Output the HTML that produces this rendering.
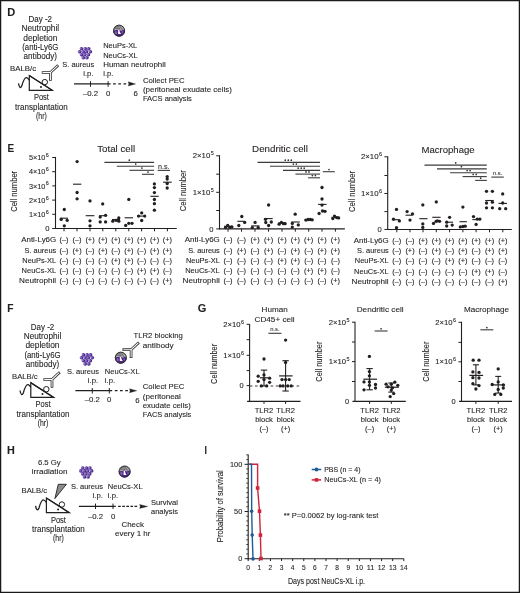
<!DOCTYPE html>
<html><head><meta charset="utf-8"><title>Figure</title><style>html,body{margin:0;padding:0;background:#fff;}svg{display:block;will-change:transform;}text{stroke:#231f20;stroke-width:0.1px;}</style></head><body>
<svg width="520" height="593" viewBox="0 0 520 593" font-family='"Liberation Sans", sans-serif' fill="#231f20">
<defs><radialGradient id="gb" cx="0.3" cy="0.45" r="0.8"><stop offset="0" stop-color="#a490d2"/><stop offset="0.35" stop-color="#6a48aa"/><stop offset="0.7" stop-color="#44218c"/><stop offset="1" stop-color="#22104e"/></radialGradient></defs>
<rect x="0" y="0" width="520" height="593" fill="#fff"/>
<text x="7.30" y="15.80" font-size="10.5" font-weight="bold" textLength="8.00" lengthAdjust="spacingAndGlyphs">D</text>
<text x="40.30" y="22.30" font-size="8.2" text-anchor="middle" textLength="23.50" lengthAdjust="spacingAndGlyphs">Day -2</text>
<text x="40.30" y="31.40" font-size="8.2" text-anchor="middle" textLength="37.70" lengthAdjust="spacingAndGlyphs">Neutrophil</text>
<text x="40.30" y="40.60" font-size="8.2" text-anchor="middle" textLength="34.10" lengthAdjust="spacingAndGlyphs">depletion</text>
<text x="40.30" y="49.90" font-size="8.2" text-anchor="middle" textLength="36.20" lengthAdjust="spacingAndGlyphs">(anti-Ly6G</text>
<text x="40.30" y="59.20" font-size="8.2" text-anchor="middle" textLength="33.40" lengthAdjust="spacingAndGlyphs">antibody)</text>
<text x="10.00" y="71.10" font-size="7.9" textLength="26.20" lengthAdjust="spacingAndGlyphs">BALB/c</text>
<path d="M29.30,75.60 L29.30,90.30 L52.20,90.30 Z" stroke="#231f20" stroke-width="1.2" fill="none" stroke-linejoin="miter"/>
<path d="M18.50,83.40 C19.30,88.10 20.70,88.60 21.90,85.60 C23.30,80.60 24.70,77.10 26.50,77.60 C28.10,78.10 28.80,79.60 29.30,80.10" stroke="#231f20" stroke-width="1.3" fill="none"/>
<circle cx="44.80" cy="82.10" r="2.7" fill="#fff" stroke="#231f20" stroke-width="1"/>
<line x1="29.30" y1="75.60" x2="52.20" y2="90.30" stroke="#231f20" stroke-width="1.2"/>
<circle cx="41.00" cy="87.00" r="1.0" fill="#231f20"/>
<path d="M41.80,72.50 L50.40,72.50 L58.20,65.20 M50.40,72.50 L50.40,80.80" stroke="#2e2e2e" stroke-width="2.7" fill="none" stroke-linejoin="miter" stroke-linecap="butt"/>
<path d="M42.55,72.50 L50.40,72.50 L57.65,65.71 M50.40,72.50 L50.40,80.05" stroke="#fff" stroke-width="1.05" fill="none" stroke-linejoin="miter" stroke-linecap="butt"/>
<text x="41.40" y="100.30" font-size="8.2" text-anchor="middle" textLength="15.00" lengthAdjust="spacingAndGlyphs">Post</text>
<text x="41.40" y="109.50" font-size="8.2" text-anchor="middle" textLength="52.60" lengthAdjust="spacingAndGlyphs">transplantation</text>
<text x="41.40" y="119.20" font-size="8.2" text-anchor="middle" textLength="10.70" lengthAdjust="spacingAndGlyphs">(hr)</text>
<circle cx="81.50" cy="48.80" r="1.8" fill="url(#gb)"/>
<circle cx="85.20" cy="48.80" r="1.8" fill="url(#gb)"/>
<circle cx="88.70" cy="48.80" r="1.8" fill="url(#gb)"/>
<circle cx="79.60" cy="51.70" r="1.8" fill="url(#gb)"/>
<circle cx="83.30" cy="51.70" r="1.8" fill="url(#gb)"/>
<circle cx="86.50" cy="51.70" r="1.8" fill="url(#gb)"/>
<circle cx="90.40" cy="51.70" r="1.8" fill="url(#gb)"/>
<circle cx="81.50" cy="54.70" r="1.8" fill="url(#gb)"/>
<circle cx="84.80" cy="54.70" r="1.8" fill="url(#gb)"/>
<circle cx="88.50" cy="54.70" r="1.8" fill="url(#gb)"/>
<circle cx="83.30" cy="57.80" r="1.8" fill="url(#gb)"/>
<circle cx="86.90" cy="57.80" r="1.8" fill="url(#gb)"/>
<text x="94.20" y="66.90" font-size="7.8" text-anchor="end" textLength="31.90" lengthAdjust="spacingAndGlyphs">S. aureus</text>
<text x="93.60" y="76.40" font-size="7.8" text-anchor="end" textLength="10.40" lengthAdjust="spacingAndGlyphs">i.p.</text>
<g transform="translate(119.10,30.70)"><circle r="6.0" fill="#a9a7ae"/><path d="M-3.8,-3.6 C-2,-4.2 0,-4 2.2,-3.4 M-4.4,-2.0 C-3,-2.6 -1,-2.5 0.8,-2.1 M1.6,-2.6 L3.6,-1.0" stroke="#4a4a4a" stroke-width="0.75" fill="none"/><path d="M-5.8,0.0 A5.8,5.8 0 0 0 5.8,0.0 C4.5,-1.2 3.2,-1.0 2.2,0.2 C1.2,-0.6 -0.4,-1.6 -1.6,-0.6 C-3,-0.8 -4.4,-0.8 -5.8,0.0 Z" fill="#4b2486"/><ellipse cx="-3.2" cy="2.0" rx="1.2" ry="1.8" fill="#8a6fb6" opacity="0.8"/><ellipse cx="3.4" cy="1.6" rx="0.9" ry="1.4" fill="#7a5eaa" opacity="0.7"/><path d="M-1.0,-0.6 L0.3,-0.8 L0.6,1.0 L1.9,3.4 L-1.0,3.4 Z" fill="#fff"/><circle r="5.55" fill="none" stroke="#2b2b2b" stroke-width="1"/></g>
<text x="103.20" y="48.00" font-size="7.8" textLength="34.10" lengthAdjust="spacingAndGlyphs">NeuPs-XL</text>
<text x="103.20" y="57.50" font-size="7.8" textLength="34.60" lengthAdjust="spacingAndGlyphs">NeuCs-XL</text>
<text x="103.20" y="66.80" font-size="7.8" textLength="62.60" lengthAdjust="spacingAndGlyphs">Human neutrophil</text>
<text x="103.20" y="76.30" font-size="7.8" textLength="10.30" lengthAdjust="spacingAndGlyphs">i.p.</text>
<line x1="74.00" y1="83.90" x2="110.60" y2="83.90" stroke="#231f20" stroke-width="1.2"/>
<line x1="90.50" y1="81.20" x2="90.50" y2="86.80" stroke="#231f20" stroke-width="1"/>
<line x1="108.10" y1="81.20" x2="108.10" y2="86.80" stroke="#231f20" stroke-width="1"/>
<line x1="113.10" y1="83.90" x2="127.00" y2="83.90" stroke="#231f20" stroke-width="1.2" stroke-dasharray="2.7,2.5"/>
<path d="M128.2,81.8 L135.6,83.9 L128.2,86.0 L128.9,83.9 Z" stroke="#231f20" stroke-width="0.3" fill="#231f20"/>
<text x="90.50" y="96.20" font-size="7.8" text-anchor="middle">–0.2</text>
<text x="108.10" y="96.20" font-size="7.8" text-anchor="middle">0</text>
<text x="135.60" y="96.20" font-size="7.8" text-anchor="middle">6</text>
<text x="142.90" y="83.00" font-size="7.8" textLength="41.70" lengthAdjust="spacingAndGlyphs">Collect PEC</text>
<text x="142.90" y="92.20" font-size="7.8" textLength="89.00" lengthAdjust="spacingAndGlyphs">(peritoneal exudate cells)</text>
<text x="142.90" y="100.80" font-size="7.8" textLength="49.00" lengthAdjust="spacingAndGlyphs">FACS analysis</text>
<text x="7.60" y="151.70" font-size="10.0" font-weight="bold" textLength="6.60" lengthAdjust="spacingAndGlyphs">E</text>
<line x1="55.50" y1="156.90" x2="55.50" y2="229.00" stroke="#231f20" stroke-width="1.1"/>
<line x1="55.00" y1="228.50" x2="176.80" y2="228.50" stroke="#231f20" stroke-width="1.1"/>
<line x1="52.20" y1="157.50" x2="55.50" y2="157.50" stroke="#231f20" stroke-width="1"/>
<line x1="52.20" y1="171.70" x2="55.50" y2="171.70" stroke="#231f20" stroke-width="1"/>
<line x1="52.20" y1="185.90" x2="55.50" y2="185.90" stroke="#231f20" stroke-width="1"/>
<line x1="52.20" y1="200.10" x2="55.50" y2="200.10" stroke="#231f20" stroke-width="1"/>
<line x1="52.20" y1="214.30" x2="55.50" y2="214.30" stroke="#231f20" stroke-width="1"/>
<line x1="52.20" y1="228.50" x2="55.50" y2="228.50" stroke="#231f20" stroke-width="1"/>
<line x1="64.00" y1="228.50" x2="64.00" y2="231.30" stroke="#231f20" stroke-width="1"/>
<line x1="77.00" y1="228.50" x2="77.00" y2="231.30" stroke="#231f20" stroke-width="1"/>
<line x1="90.00" y1="228.50" x2="90.00" y2="231.30" stroke="#231f20" stroke-width="1"/>
<line x1="102.80" y1="228.50" x2="102.80" y2="231.30" stroke="#231f20" stroke-width="1"/>
<line x1="115.80" y1="228.50" x2="115.80" y2="231.30" stroke="#231f20" stroke-width="1"/>
<line x1="128.80" y1="228.50" x2="128.80" y2="231.30" stroke="#231f20" stroke-width="1"/>
<line x1="141.60" y1="228.50" x2="141.60" y2="231.30" stroke="#231f20" stroke-width="1"/>
<line x1="154.50" y1="228.50" x2="154.50" y2="231.30" stroke="#231f20" stroke-width="1"/>
<line x1="167.40" y1="228.50" x2="167.40" y2="231.30" stroke="#231f20" stroke-width="1"/>
<text x="45.40" y="160.10" font-size="7.4" text-anchor="end" textLength="16.50" lengthAdjust="spacingAndGlyphs">5×10</text>
<text x="45.80" y="156.90" font-size="5.4">6</text>
<text x="45.40" y="174.30" font-size="7.4" text-anchor="end" textLength="16.50" lengthAdjust="spacingAndGlyphs">4×10</text>
<text x="45.80" y="171.10" font-size="5.4">6</text>
<text x="45.40" y="188.50" font-size="7.4" text-anchor="end" textLength="16.50" lengthAdjust="spacingAndGlyphs">3×10</text>
<text x="45.80" y="185.30" font-size="5.4">6</text>
<text x="45.40" y="202.70" font-size="7.4" text-anchor="end" textLength="16.50" lengthAdjust="spacingAndGlyphs">2×10</text>
<text x="45.80" y="199.50" font-size="5.4">6</text>
<text x="45.40" y="216.90" font-size="7.4" text-anchor="end" textLength="16.50" lengthAdjust="spacingAndGlyphs">1×10</text>
<text x="45.80" y="213.70" font-size="5.4">6</text>
<text x="49.50" y="231.20" font-size="7.6" text-anchor="end">0</text>
<text x="97.20" y="151.50" font-size="9.7" textLength="37.90" lengthAdjust="spacingAndGlyphs">Total cell</text>
<text x="14.70" y="191.35" font-size="8.8" text-anchor="middle" textLength="41.00" lengthAdjust="spacingAndGlyphs" transform="rotate(-90 14.70 191.35)" dominant-baseline="middle">Cell number</text>
<circle cx="64.30" cy="209.50" r="1.65" fill="#231f20"/>
<circle cx="61.20" cy="219.40" r="1.65" fill="#231f20"/>
<circle cx="67.20" cy="220.30" r="1.65" fill="#231f20"/>
<circle cx="64.30" cy="225.80" r="1.65" fill="#231f20"/>
<circle cx="77.10" cy="161.60" r="1.65" fill="#231f20"/>
<circle cx="77.10" cy="192.50" r="1.65" fill="#231f20"/>
<circle cx="77.10" cy="198.80" r="1.65" fill="#231f20"/>
<circle cx="90.00" cy="200.90" r="1.65" fill="#231f20"/>
<circle cx="90.00" cy="220.80" r="1.65" fill="#231f20"/>
<circle cx="90.00" cy="225.80" r="1.65" fill="#231f20"/>
<circle cx="102.70" cy="203.90" r="1.65" fill="#231f20"/>
<circle cx="100.20" cy="217.10" r="1.65" fill="#231f20"/>
<circle cx="105.60" cy="215.30" r="1.65" fill="#231f20"/>
<circle cx="100.20" cy="221.90" r="1.65" fill="#231f20"/>
<circle cx="105.60" cy="221.90" r="1.65" fill="#231f20"/>
<circle cx="112.80" cy="221.20" r="1.65" fill="#231f20"/>
<circle cx="116.10" cy="220.30" r="1.65" fill="#231f20"/>
<circle cx="118.80" cy="218.00" r="1.65" fill="#231f20"/>
<circle cx="118.80" cy="221.20" r="1.65" fill="#231f20"/>
<circle cx="128.80" cy="199.40" r="1.65" fill="#231f20"/>
<circle cx="125.70" cy="225.40" r="1.65" fill="#231f20"/>
<circle cx="128.80" cy="223.30" r="1.65" fill="#231f20"/>
<circle cx="132.00" cy="223.30" r="1.65" fill="#231f20"/>
<circle cx="141.70" cy="212.90" r="1.65" fill="#231f20"/>
<circle cx="138.60" cy="216.10" r="1.65" fill="#231f20"/>
<circle cx="144.70" cy="216.10" r="1.65" fill="#231f20"/>
<circle cx="141.70" cy="220.50" r="1.65" fill="#231f20"/>
<circle cx="154.40" cy="183.90" r="1.65" fill="#231f20"/>
<circle cx="154.40" cy="187.60" r="1.65" fill="#231f20"/>
<circle cx="154.40" cy="192.60" r="1.65" fill="#231f20"/>
<circle cx="154.40" cy="199.50" r="1.65" fill="#231f20"/>
<circle cx="154.40" cy="203.70" r="1.65" fill="#231f20"/>
<circle cx="154.40" cy="210.20" r="1.65" fill="#231f20"/>
<circle cx="167.20" cy="176.60" r="1.65" fill="#231f20"/>
<circle cx="167.20" cy="179.00" r="1.65" fill="#231f20"/>
<circle cx="167.20" cy="183.50" r="1.65" fill="#231f20"/>
<circle cx="167.20" cy="188.00" r="1.65" fill="#231f20"/>
<line x1="59.80" y1="218.20" x2="68.00" y2="218.20" stroke="#231f20" stroke-width="1.1"/>
<line x1="73.00" y1="184.20" x2="81.30" y2="184.20" stroke="#231f20" stroke-width="1.1"/>
<line x1="85.70" y1="215.70" x2="94.40" y2="215.70" stroke="#231f20" stroke-width="1.1"/>
<line x1="99.00" y1="215.70" x2="107.00" y2="215.70" stroke="#231f20" stroke-width="1.1"/>
<line x1="112.00" y1="219.50" x2="120.00" y2="219.50" stroke="#231f20" stroke-width="1.1"/>
<line x1="124.60" y1="217.80" x2="133.00" y2="217.80" stroke="#231f20" stroke-width="1.1"/>
<line x1="137.00" y1="216.10" x2="146.00" y2="216.10" stroke="#231f20" stroke-width="1.1"/>
<line x1="150.40" y1="196.30" x2="158.70" y2="196.30" stroke="#231f20" stroke-width="1.1"/>
<line x1="163.00" y1="182.20" x2="171.70" y2="182.20" stroke="#231f20" stroke-width="1.1"/>
<line x1="104.40" y1="162.40" x2="154.10" y2="162.40" stroke="#3b3b3b" stroke-width="1.1"/>
<circle cx="129.30" cy="160.20" r="0.85" fill="#333"/>
<line x1="116.80" y1="166.30" x2="154.10" y2="166.30" stroke="#3b3b3b" stroke-width="1.1"/>
<circle cx="135.70" cy="164.10" r="0.85" fill="#333"/>
<line x1="129.40" y1="170.30" x2="154.10" y2="170.30" stroke="#3b3b3b" stroke-width="1.1"/>
<circle cx="141.90" cy="168.10" r="0.85" fill="#333"/>
<line x1="142.00" y1="174.30" x2="154.10" y2="174.30" stroke="#3b3b3b" stroke-width="1.1"/>
<circle cx="148.00" cy="172.10" r="0.85" fill="#333"/>
<line x1="157.60" y1="170.40" x2="170.00" y2="170.40" stroke="#3b3b3b" stroke-width="1.1"/>
<text x="163.80" y="168.50" font-size="6.6" text-anchor="middle" textLength="11.60" lengthAdjust="spacingAndGlyphs" fill="#3b3b3b">n.s.</text>
<text x="56.20" y="242.00" font-size="7.6" text-anchor="end" textLength="35.00" lengthAdjust="spacingAndGlyphs">Anti-Ly6G</text>
<text x="64.00" y="242.00" font-size="7.4" text-anchor="middle">(–)</text>
<text x="77.00" y="242.00" font-size="7.4" text-anchor="middle">(–)</text>
<text x="90.00" y="242.00" font-size="7.4" text-anchor="middle">(+)</text>
<text x="102.80" y="242.00" font-size="7.4" text-anchor="middle">(+)</text>
<text x="115.80" y="242.00" font-size="7.4" text-anchor="middle">(+)</text>
<text x="128.80" y="242.00" font-size="7.4" text-anchor="middle">(+)</text>
<text x="141.60" y="242.00" font-size="7.4" text-anchor="middle">(+)</text>
<text x="154.50" y="242.00" font-size="7.4" text-anchor="middle">(+)</text>
<text x="167.40" y="242.00" font-size="7.4" text-anchor="middle">(+)</text>
<text x="56.20" y="252.50" font-size="7.6" text-anchor="end" textLength="31.60" lengthAdjust="spacingAndGlyphs">S. aureus</text>
<text x="64.00" y="252.50" font-size="7.4" text-anchor="middle">(–)</text>
<text x="77.00" y="252.50" font-size="7.4" text-anchor="middle">(+)</text>
<text x="90.00" y="252.50" font-size="7.4" text-anchor="middle">(–)</text>
<text x="102.80" y="252.50" font-size="7.4" text-anchor="middle">(+)</text>
<text x="115.80" y="252.50" font-size="7.4" text-anchor="middle">(–)</text>
<text x="128.80" y="252.50" font-size="7.4" text-anchor="middle">(+)</text>
<text x="141.60" y="252.50" font-size="7.4" text-anchor="middle">(–)</text>
<text x="154.50" y="252.50" font-size="7.4" text-anchor="middle">(+)</text>
<text x="167.40" y="252.50" font-size="7.4" text-anchor="middle">(+)</text>
<text x="56.20" y="262.80" font-size="7.6" text-anchor="end" textLength="33.90" lengthAdjust="spacingAndGlyphs">NeuPs-XL</text>
<text x="64.00" y="262.80" font-size="7.4" text-anchor="middle">(–)</text>
<text x="77.00" y="262.80" font-size="7.4" text-anchor="middle">(–)</text>
<text x="90.00" y="262.80" font-size="7.4" text-anchor="middle">(–)</text>
<text x="102.80" y="262.80" font-size="7.4" text-anchor="middle">(–)</text>
<text x="115.80" y="262.80" font-size="7.4" text-anchor="middle">(+)</text>
<text x="128.80" y="262.80" font-size="7.4" text-anchor="middle">(+)</text>
<text x="141.60" y="262.80" font-size="7.4" text-anchor="middle">(–)</text>
<text x="154.50" y="262.80" font-size="7.4" text-anchor="middle">(–)</text>
<text x="167.40" y="262.80" font-size="7.4" text-anchor="middle">(–)</text>
<text x="56.20" y="273.00" font-size="7.6" text-anchor="end" textLength="34.60" lengthAdjust="spacingAndGlyphs">NeuCs-XL</text>
<text x="64.00" y="273.00" font-size="7.4" text-anchor="middle">(–)</text>
<text x="77.00" y="273.00" font-size="7.4" text-anchor="middle">(–)</text>
<text x="90.00" y="273.00" font-size="7.4" text-anchor="middle">(–)</text>
<text x="102.80" y="273.00" font-size="7.4" text-anchor="middle">(–)</text>
<text x="115.80" y="273.00" font-size="7.4" text-anchor="middle">(–)</text>
<text x="128.80" y="273.00" font-size="7.4" text-anchor="middle">(–)</text>
<text x="141.60" y="273.00" font-size="7.4" text-anchor="middle">(+)</text>
<text x="154.50" y="273.00" font-size="7.4" text-anchor="middle">(+)</text>
<text x="167.40" y="273.00" font-size="7.4" text-anchor="middle">(–)</text>
<text x="56.20" y="283.20" font-size="7.6" text-anchor="end" textLength="37.20" lengthAdjust="spacingAndGlyphs">Neutrophil</text>
<text x="64.00" y="283.20" font-size="7.4" text-anchor="middle">(–)</text>
<text x="77.00" y="283.20" font-size="7.4" text-anchor="middle">(–)</text>
<text x="90.00" y="283.20" font-size="7.4" text-anchor="middle">(–)</text>
<text x="102.80" y="283.20" font-size="7.4" text-anchor="middle">(–)</text>
<text x="115.80" y="283.20" font-size="7.4" text-anchor="middle">(–)</text>
<text x="128.80" y="283.20" font-size="7.4" text-anchor="middle">(–)</text>
<text x="141.60" y="283.20" font-size="7.4" text-anchor="middle">(–)</text>
<text x="154.50" y="283.20" font-size="7.4" text-anchor="middle">(–)</text>
<text x="167.40" y="283.20" font-size="7.4" text-anchor="middle">(+)</text>
<line x1="219.50" y1="155.30" x2="219.50" y2="229.40" stroke="#231f20" stroke-width="1.1"/>
<line x1="219.00" y1="228.90" x2="344.90" y2="228.90" stroke="#231f20" stroke-width="1.1"/>
<line x1="216.20" y1="155.80" x2="219.50" y2="155.80" stroke="#231f20" stroke-width="1"/>
<line x1="216.20" y1="174.20" x2="219.50" y2="174.20" stroke="#231f20" stroke-width="1"/>
<line x1="216.20" y1="192.30" x2="219.50" y2="192.30" stroke="#231f20" stroke-width="1"/>
<line x1="216.20" y1="210.50" x2="219.50" y2="210.50" stroke="#231f20" stroke-width="1"/>
<line x1="216.20" y1="228.90" x2="219.50" y2="228.90" stroke="#231f20" stroke-width="1"/>
<line x1="228.00" y1="228.90" x2="228.00" y2="231.70" stroke="#231f20" stroke-width="1"/>
<line x1="241.50" y1="228.90" x2="241.50" y2="231.70" stroke="#231f20" stroke-width="1"/>
<line x1="255.00" y1="228.90" x2="255.00" y2="231.70" stroke="#231f20" stroke-width="1"/>
<line x1="268.50" y1="228.90" x2="268.50" y2="231.70" stroke="#231f20" stroke-width="1"/>
<line x1="282.00" y1="228.90" x2="282.00" y2="231.70" stroke="#231f20" stroke-width="1"/>
<line x1="295.30" y1="228.90" x2="295.30" y2="231.70" stroke="#231f20" stroke-width="1"/>
<line x1="308.70" y1="228.90" x2="308.70" y2="231.70" stroke="#231f20" stroke-width="1"/>
<line x1="322.00" y1="228.90" x2="322.00" y2="231.70" stroke="#231f20" stroke-width="1"/>
<line x1="335.40" y1="228.90" x2="335.40" y2="231.70" stroke="#231f20" stroke-width="1"/>
<text x="210.30" y="158.40" font-size="7.4" text-anchor="end" textLength="17.60" lengthAdjust="spacingAndGlyphs">2×10</text>
<text x="210.70" y="155.20" font-size="5.4">5</text>
<text x="210.30" y="194.90" font-size="7.4" text-anchor="end" textLength="17.60" lengthAdjust="spacingAndGlyphs">1×10</text>
<text x="210.70" y="191.70" font-size="5.4">5</text>
<text x="213.50" y="231.60" font-size="7.6" text-anchor="end">0</text>
<text x="252.10" y="152.10" font-size="9.7" textLength="55.80" lengthAdjust="spacingAndGlyphs">Dendritic cell</text>
<text x="184.00" y="190.75" font-size="8.8" text-anchor="middle" textLength="41.00" lengthAdjust="spacingAndGlyphs" transform="rotate(-90 184.00 190.75)" dominant-baseline="middle">Cell number</text>
<circle cx="225.60" cy="227.60" r="1.65" fill="#231f20"/>
<circle cx="227.70" cy="225.50" r="1.65" fill="#231f20"/>
<circle cx="229.80" cy="227.40" r="1.65" fill="#231f20"/>
<circle cx="231.90" cy="226.90" r="1.65" fill="#231f20"/>
<circle cx="241.80" cy="216.50" r="1.65" fill="#231f20"/>
<circle cx="238.80" cy="225.50" r="1.65" fill="#231f20"/>
<circle cx="244.70" cy="222.40" r="1.65" fill="#231f20"/>
<circle cx="255.10" cy="222.40" r="1.65" fill="#231f20"/>
<circle cx="252.30" cy="227.60" r="1.65" fill="#231f20"/>
<circle cx="258.20" cy="227.60" r="1.65" fill="#231f20"/>
<circle cx="268.60" cy="205.00" r="1.65" fill="#231f20"/>
<circle cx="265.50" cy="219.30" r="1.65" fill="#231f20"/>
<circle cx="271.30" cy="222.00" r="1.65" fill="#231f20"/>
<circle cx="268.60" cy="225.50" r="1.65" fill="#231f20"/>
<circle cx="265.80" cy="222.50" r="1.65" fill="#231f20"/>
<circle cx="279.10" cy="224.20" r="1.65" fill="#231f20"/>
<circle cx="281.40" cy="222.40" r="1.65" fill="#231f20"/>
<circle cx="283.50" cy="223.70" r="1.65" fill="#231f20"/>
<circle cx="285.10" cy="223.70" r="1.65" fill="#231f20"/>
<circle cx="295.20" cy="214.20" r="1.65" fill="#231f20"/>
<circle cx="292.30" cy="223.40" r="1.65" fill="#231f20"/>
<circle cx="298.30" cy="224.90" r="1.65" fill="#231f20"/>
<circle cx="292.30" cy="227.10" r="1.65" fill="#231f20"/>
<circle cx="305.90" cy="220.10" r="1.65" fill="#231f20"/>
<circle cx="308.10" cy="219.50" r="1.65" fill="#231f20"/>
<circle cx="310.30" cy="219.50" r="1.65" fill="#231f20"/>
<circle cx="312.20" cy="219.80" r="1.65" fill="#231f20"/>
<circle cx="322.00" cy="187.50" r="1.65" fill="#231f20"/>
<circle cx="322.00" cy="199.00" r="1.65" fill="#231f20"/>
<circle cx="322.00" cy="205.10" r="1.65" fill="#231f20"/>
<circle cx="319.10" cy="213.50" r="1.65" fill="#231f20"/>
<circle cx="322.50" cy="211.00" r="1.65" fill="#231f20"/>
<circle cx="325.00" cy="211.30" r="1.65" fill="#231f20"/>
<circle cx="332.80" cy="218.60" r="1.65" fill="#231f20"/>
<circle cx="334.50" cy="216.10" r="1.65" fill="#231f20"/>
<circle cx="336.70" cy="217.60" r="1.65" fill="#231f20"/>
<circle cx="338.60" cy="217.90" r="1.65" fill="#231f20"/>
<line x1="224.00" y1="226.30" x2="232.00" y2="226.30" stroke="#231f20" stroke-width="1.1"/>
<line x1="237.40" y1="221.30" x2="244.30" y2="221.30" stroke="#231f20" stroke-width="1.1"/>
<line x1="251.20" y1="225.90" x2="259.50" y2="225.90" stroke="#231f20" stroke-width="1.1"/>
<line x1="264.40" y1="218.60" x2="272.70" y2="218.60" stroke="#231f20" stroke-width="1.1"/>
<line x1="278.00" y1="223.00" x2="286.00" y2="223.00" stroke="#231f20" stroke-width="1.1"/>
<line x1="291.30" y1="222.00" x2="299.80" y2="222.00" stroke="#231f20" stroke-width="1.1"/>
<line x1="304.50" y1="219.70" x2="312.50" y2="219.70" stroke="#231f20" stroke-width="1.1"/>
<line x1="318.10" y1="204.40" x2="326.50" y2="204.40" stroke="#231f20" stroke-width="1.1"/>
<line x1="331.50" y1="217.30" x2="339.50" y2="217.30" stroke="#231f20" stroke-width="1.1"/>
<line x1="257.50" y1="162.40" x2="320.00" y2="162.40" stroke="#3b3b3b" stroke-width="1.1"/>
<circle cx="285.30" cy="160.20" r="0.85" fill="#333"/>
<circle cx="288.30" cy="160.20" r="0.85" fill="#333"/>
<circle cx="291.30" cy="160.20" r="0.85" fill="#333"/>
<line x1="270.00" y1="166.30" x2="320.00" y2="166.30" stroke="#3b3b3b" stroke-width="1.1"/>
<circle cx="293.35" cy="164.10" r="0.85" fill="#333"/>
<circle cx="296.35" cy="164.10" r="0.85" fill="#333"/>
<line x1="283.00" y1="170.40" x2="320.00" y2="170.40" stroke="#3b3b3b" stroke-width="1.1"/>
<circle cx="298.20" cy="168.20" r="0.85" fill="#333"/>
<circle cx="301.20" cy="168.20" r="0.85" fill="#333"/>
<circle cx="304.20" cy="168.20" r="0.85" fill="#333"/>
<line x1="295.40" y1="174.10" x2="320.00" y2="174.10" stroke="#3b3b3b" stroke-width="1.1"/>
<circle cx="306.00" cy="171.90" r="0.85" fill="#333"/>
<circle cx="309.00" cy="171.90" r="0.85" fill="#333"/>
<line x1="308.10" y1="177.80" x2="320.00" y2="177.80" stroke="#3b3b3b" stroke-width="1.1"/>
<circle cx="312.35" cy="175.60" r="0.85" fill="#333"/>
<circle cx="315.35" cy="175.60" r="0.85" fill="#333"/>
<line x1="322.80" y1="171.70" x2="334.80" y2="171.70" stroke="#3b3b3b" stroke-width="1.1"/>
<circle cx="329.00" cy="169.50" r="0.85" fill="#333"/>
<text x="219.80" y="242.00" font-size="7.6" text-anchor="end" textLength="35.00" lengthAdjust="spacingAndGlyphs">Anti-Ly6G</text>
<text x="228.00" y="242.00" font-size="7.4" text-anchor="middle">(–)</text>
<text x="241.50" y="242.00" font-size="7.4" text-anchor="middle">(–)</text>
<text x="255.00" y="242.00" font-size="7.4" text-anchor="middle">(+)</text>
<text x="268.50" y="242.00" font-size="7.4" text-anchor="middle">(+)</text>
<text x="282.00" y="242.00" font-size="7.4" text-anchor="middle">(+)</text>
<text x="295.30" y="242.00" font-size="7.4" text-anchor="middle">(+)</text>
<text x="308.70" y="242.00" font-size="7.4" text-anchor="middle">(+)</text>
<text x="322.00" y="242.00" font-size="7.4" text-anchor="middle">(+)</text>
<text x="335.40" y="242.00" font-size="7.4" text-anchor="middle">(+)</text>
<text x="219.80" y="252.50" font-size="7.6" text-anchor="end" textLength="31.60" lengthAdjust="spacingAndGlyphs">S. aureus</text>
<text x="228.00" y="252.50" font-size="7.4" text-anchor="middle">(–)</text>
<text x="241.50" y="252.50" font-size="7.4" text-anchor="middle">(+)</text>
<text x="255.00" y="252.50" font-size="7.4" text-anchor="middle">(–)</text>
<text x="268.50" y="252.50" font-size="7.4" text-anchor="middle">(+)</text>
<text x="282.00" y="252.50" font-size="7.4" text-anchor="middle">(–)</text>
<text x="295.30" y="252.50" font-size="7.4" text-anchor="middle">(+)</text>
<text x="308.70" y="252.50" font-size="7.4" text-anchor="middle">(–)</text>
<text x="322.00" y="252.50" font-size="7.4" text-anchor="middle">(+)</text>
<text x="335.40" y="252.50" font-size="7.4" text-anchor="middle">(+)</text>
<text x="219.80" y="262.80" font-size="7.6" text-anchor="end" textLength="33.90" lengthAdjust="spacingAndGlyphs">NeuPs-XL</text>
<text x="228.00" y="262.80" font-size="7.4" text-anchor="middle">(–)</text>
<text x="241.50" y="262.80" font-size="7.4" text-anchor="middle">(–)</text>
<text x="255.00" y="262.80" font-size="7.4" text-anchor="middle">(–)</text>
<text x="268.50" y="262.80" font-size="7.4" text-anchor="middle">(–)</text>
<text x="282.00" y="262.80" font-size="7.4" text-anchor="middle">(+)</text>
<text x="295.30" y="262.80" font-size="7.4" text-anchor="middle">(+)</text>
<text x="308.70" y="262.80" font-size="7.4" text-anchor="middle">(–)</text>
<text x="322.00" y="262.80" font-size="7.4" text-anchor="middle">(–)</text>
<text x="335.40" y="262.80" font-size="7.4" text-anchor="middle">(–)</text>
<text x="219.80" y="273.00" font-size="7.6" text-anchor="end" textLength="34.60" lengthAdjust="spacingAndGlyphs">NeuCs-XL</text>
<text x="228.00" y="273.00" font-size="7.4" text-anchor="middle">(–)</text>
<text x="241.50" y="273.00" font-size="7.4" text-anchor="middle">(–)</text>
<text x="255.00" y="273.00" font-size="7.4" text-anchor="middle">(–)</text>
<text x="268.50" y="273.00" font-size="7.4" text-anchor="middle">(–)</text>
<text x="282.00" y="273.00" font-size="7.4" text-anchor="middle">(–)</text>
<text x="295.30" y="273.00" font-size="7.4" text-anchor="middle">(–)</text>
<text x="308.70" y="273.00" font-size="7.4" text-anchor="middle">(+)</text>
<text x="322.00" y="273.00" font-size="7.4" text-anchor="middle">(+)</text>
<text x="335.40" y="273.00" font-size="7.4" text-anchor="middle">(–)</text>
<text x="219.80" y="283.20" font-size="7.6" text-anchor="end" textLength="37.20" lengthAdjust="spacingAndGlyphs">Neutrophil</text>
<text x="228.00" y="283.20" font-size="7.4" text-anchor="middle">(–)</text>
<text x="241.50" y="283.20" font-size="7.4" text-anchor="middle">(–)</text>
<text x="255.00" y="283.20" font-size="7.4" text-anchor="middle">(–)</text>
<text x="268.50" y="283.20" font-size="7.4" text-anchor="middle">(–)</text>
<text x="282.00" y="283.20" font-size="7.4" text-anchor="middle">(–)</text>
<text x="295.30" y="283.20" font-size="7.4" text-anchor="middle">(–)</text>
<text x="308.70" y="283.20" font-size="7.4" text-anchor="middle">(–)</text>
<text x="322.00" y="283.20" font-size="7.4" text-anchor="middle">(–)</text>
<text x="335.40" y="283.20" font-size="7.4" text-anchor="middle">(+)</text>
<line x1="387.70" y1="156.30" x2="387.70" y2="229.95" stroke="#231f20" stroke-width="1.1"/>
<line x1="387.20" y1="229.45" x2="511.80" y2="229.45" stroke="#231f20" stroke-width="1.1"/>
<line x1="384.40" y1="156.80" x2="387.70" y2="156.80" stroke="#231f20" stroke-width="1"/>
<line x1="384.40" y1="175.50" x2="387.70" y2="175.50" stroke="#231f20" stroke-width="1"/>
<line x1="384.40" y1="193.50" x2="387.70" y2="193.50" stroke="#231f20" stroke-width="1"/>
<line x1="384.40" y1="211.60" x2="387.70" y2="211.60" stroke="#231f20" stroke-width="1"/>
<line x1="384.40" y1="229.45" x2="387.70" y2="229.45" stroke="#231f20" stroke-width="1"/>
<line x1="396.80" y1="229.45" x2="396.80" y2="232.25" stroke="#231f20" stroke-width="1"/>
<line x1="410.00" y1="229.45" x2="410.00" y2="232.25" stroke="#231f20" stroke-width="1"/>
<line x1="423.00" y1="229.45" x2="423.00" y2="232.25" stroke="#231f20" stroke-width="1"/>
<line x1="436.30" y1="229.45" x2="436.30" y2="232.25" stroke="#231f20" stroke-width="1"/>
<line x1="449.60" y1="229.45" x2="449.60" y2="232.25" stroke="#231f20" stroke-width="1"/>
<line x1="462.90" y1="229.45" x2="462.90" y2="232.25" stroke="#231f20" stroke-width="1"/>
<line x1="476.10" y1="229.45" x2="476.10" y2="232.25" stroke="#231f20" stroke-width="1"/>
<line x1="489.50" y1="229.45" x2="489.50" y2="232.25" stroke="#231f20" stroke-width="1"/>
<line x1="502.80" y1="229.45" x2="502.80" y2="232.25" stroke="#231f20" stroke-width="1"/>
<text x="378.50" y="159.40" font-size="7.4" text-anchor="end" textLength="17.60" lengthAdjust="spacingAndGlyphs">2×10</text>
<text x="378.90" y="156.20" font-size="5.4">6</text>
<text x="378.50" y="196.10" font-size="7.4" text-anchor="end" textLength="17.60" lengthAdjust="spacingAndGlyphs">1×10</text>
<text x="378.90" y="192.90" font-size="5.4">6</text>
<text x="381.70" y="232.15" font-size="7.6" text-anchor="end">0</text>
<text x="421.50" y="153.10" font-size="9.7" textLength="53.10" lengthAdjust="spacingAndGlyphs">Macrophage</text>
<text x="352.80" y="191.53" font-size="8.8" text-anchor="middle" textLength="41.00" lengthAdjust="spacingAndGlyphs" transform="rotate(-90 352.80 191.53)" dominant-baseline="middle">Cell number</text>
<circle cx="396.50" cy="209.40" r="1.65" fill="#231f20"/>
<circle cx="393.50" cy="219.20" r="1.65" fill="#231f20"/>
<circle cx="399.40" cy="220.90" r="1.65" fill="#231f20"/>
<circle cx="396.50" cy="227.70" r="1.65" fill="#231f20"/>
<circle cx="407.10" cy="211.60" r="1.65" fill="#231f20"/>
<circle cx="412.50" cy="214.00" r="1.65" fill="#231f20"/>
<circle cx="410.00" cy="220.10" r="1.65" fill="#231f20"/>
<circle cx="422.80" cy="204.90" r="1.65" fill="#231f20"/>
<circle cx="422.80" cy="223.90" r="1.65" fill="#231f20"/>
<circle cx="422.80" cy="227.40" r="1.65" fill="#231f20"/>
<circle cx="436.30" cy="201.90" r="1.65" fill="#231f20"/>
<circle cx="433.50" cy="223.40" r="1.65" fill="#231f20"/>
<circle cx="436.10" cy="221.30" r="1.65" fill="#231f20"/>
<circle cx="437.50" cy="220.80" r="1.65" fill="#231f20"/>
<circle cx="439.60" cy="221.30" r="1.65" fill="#231f20"/>
<circle cx="449.60" cy="217.30" r="1.65" fill="#231f20"/>
<circle cx="446.70" cy="222.20" r="1.65" fill="#231f20"/>
<circle cx="446.70" cy="226.00" r="1.65" fill="#231f20"/>
<circle cx="452.20" cy="225.10" r="1.65" fill="#231f20"/>
<circle cx="462.90" cy="207.10" r="1.65" fill="#231f20"/>
<circle cx="460.30" cy="226.90" r="1.65" fill="#231f20"/>
<circle cx="462.90" cy="226.50" r="1.65" fill="#231f20"/>
<circle cx="465.20" cy="226.20" r="1.65" fill="#231f20"/>
<circle cx="473.50" cy="216.60" r="1.65" fill="#231f20"/>
<circle cx="476.10" cy="224.40" r="1.65" fill="#231f20"/>
<circle cx="477.30" cy="219.10" r="1.65" fill="#231f20"/>
<circle cx="479.90" cy="219.10" r="1.65" fill="#231f20"/>
<circle cx="486.50" cy="191.30" r="1.65" fill="#231f20"/>
<circle cx="492.40" cy="191.30" r="1.65" fill="#231f20"/>
<circle cx="486.50" cy="203.00" r="1.65" fill="#231f20"/>
<circle cx="492.40" cy="202.20" r="1.65" fill="#231f20"/>
<circle cx="486.50" cy="207.80" r="1.65" fill="#231f20"/>
<circle cx="492.40" cy="207.80" r="1.65" fill="#231f20"/>
<circle cx="502.70" cy="193.90" r="1.65" fill="#231f20"/>
<circle cx="502.70" cy="203.00" r="1.65" fill="#231f20"/>
<circle cx="499.70" cy="208.70" r="1.65" fill="#231f20"/>
<circle cx="505.70" cy="208.70" r="1.65" fill="#231f20"/>
<line x1="392.40" y1="219.70" x2="399.70" y2="219.70" stroke="#231f20" stroke-width="1.1"/>
<line x1="405.50" y1="215.20" x2="412.00" y2="215.20" stroke="#231f20" stroke-width="1.1"/>
<line x1="419.30" y1="218.70" x2="427.50" y2="218.70" stroke="#231f20" stroke-width="1.1"/>
<line x1="432.30" y1="217.30" x2="440.60" y2="217.30" stroke="#231f20" stroke-width="1.1"/>
<line x1="446.00" y1="222.20" x2="453.00" y2="222.20" stroke="#231f20" stroke-width="1.1"/>
<line x1="459.50" y1="221.70" x2="466.90" y2="221.70" stroke="#231f20" stroke-width="1.1"/>
<line x1="472.40" y1="219.60" x2="480.40" y2="219.60" stroke="#231f20" stroke-width="1.1"/>
<line x1="485.20" y1="200.50" x2="493.70" y2="200.50" stroke="#231f20" stroke-width="1.1"/>
<line x1="498.50" y1="203.40" x2="507.00" y2="203.40" stroke="#231f20" stroke-width="1.1"/>
<line x1="424.50" y1="165.10" x2="486.80" y2="165.10" stroke="#3b3b3b" stroke-width="1.1"/>
<circle cx="455.70" cy="162.90" r="0.85" fill="#333"/>
<line x1="437.00" y1="168.90" x2="486.80" y2="168.90" stroke="#3b3b3b" stroke-width="1.1"/>
<circle cx="461.40" cy="166.70" r="0.85" fill="#333"/>
<line x1="450.10" y1="172.80" x2="486.80" y2="172.80" stroke="#3b3b3b" stroke-width="1.1"/>
<circle cx="467.10" cy="170.60" r="0.85" fill="#333"/>
<circle cx="470.10" cy="170.60" r="0.85" fill="#333"/>
<line x1="462.60" y1="176.60" x2="486.80" y2="176.60" stroke="#3b3b3b" stroke-width="1.1"/>
<circle cx="473.20" cy="174.40" r="0.85" fill="#333"/>
<circle cx="476.20" cy="174.40" r="0.85" fill="#333"/>
<line x1="475.20" y1="180.40" x2="486.80" y2="180.40" stroke="#3b3b3b" stroke-width="1.1"/>
<circle cx="480.70" cy="178.20" r="0.85" fill="#333"/>
<line x1="491.30" y1="177.10" x2="503.80" y2="177.10" stroke="#3b3b3b" stroke-width="1.1"/>
<text x="497.55" y="175.20" font-size="5.8" text-anchor="middle" textLength="9.00" lengthAdjust="spacingAndGlyphs" fill="#3b3b3b">n.s.</text>
<text x="388.70" y="242.50" font-size="7.6" text-anchor="end" textLength="35.00" lengthAdjust="spacingAndGlyphs">Anti-Ly6G</text>
<text x="396.80" y="242.50" font-size="7.4" text-anchor="middle">(–)</text>
<text x="410.00" y="242.50" font-size="7.4" text-anchor="middle">(–)</text>
<text x="423.00" y="242.50" font-size="7.4" text-anchor="middle">(+)</text>
<text x="436.30" y="242.50" font-size="7.4" text-anchor="middle">(+)</text>
<text x="449.60" y="242.50" font-size="7.4" text-anchor="middle">(+)</text>
<text x="462.90" y="242.50" font-size="7.4" text-anchor="middle">(+)</text>
<text x="476.10" y="242.50" font-size="7.4" text-anchor="middle">(+)</text>
<text x="489.50" y="242.50" font-size="7.4" text-anchor="middle">(+)</text>
<text x="502.80" y="242.50" font-size="7.4" text-anchor="middle">(+)</text>
<text x="388.70" y="253.00" font-size="7.6" text-anchor="end" textLength="31.60" lengthAdjust="spacingAndGlyphs">S. aureus</text>
<text x="396.80" y="253.00" font-size="7.4" text-anchor="middle">(–)</text>
<text x="410.00" y="253.00" font-size="7.4" text-anchor="middle">(+)</text>
<text x="423.00" y="253.00" font-size="7.4" text-anchor="middle">(–)</text>
<text x="436.30" y="253.00" font-size="7.4" text-anchor="middle">(+)</text>
<text x="449.60" y="253.00" font-size="7.4" text-anchor="middle">(–)</text>
<text x="462.90" y="253.00" font-size="7.4" text-anchor="middle">(+)</text>
<text x="476.10" y="253.00" font-size="7.4" text-anchor="middle">(–)</text>
<text x="489.50" y="253.00" font-size="7.4" text-anchor="middle">(+)</text>
<text x="502.80" y="253.00" font-size="7.4" text-anchor="middle">(+)</text>
<text x="388.70" y="263.30" font-size="7.6" text-anchor="end" textLength="33.90" lengthAdjust="spacingAndGlyphs">NeuPs-XL</text>
<text x="396.80" y="263.30" font-size="7.4" text-anchor="middle">(–)</text>
<text x="410.00" y="263.30" font-size="7.4" text-anchor="middle">(–)</text>
<text x="423.00" y="263.30" font-size="7.4" text-anchor="middle">(–)</text>
<text x="436.30" y="263.30" font-size="7.4" text-anchor="middle">(–)</text>
<text x="449.60" y="263.30" font-size="7.4" text-anchor="middle">(+)</text>
<text x="462.90" y="263.30" font-size="7.4" text-anchor="middle">(+)</text>
<text x="476.10" y="263.30" font-size="7.4" text-anchor="middle">(–)</text>
<text x="489.50" y="263.30" font-size="7.4" text-anchor="middle">(–)</text>
<text x="502.80" y="263.30" font-size="7.4" text-anchor="middle">(–)</text>
<text x="388.70" y="273.50" font-size="7.6" text-anchor="end" textLength="34.60" lengthAdjust="spacingAndGlyphs">NeuCs-XL</text>
<text x="396.80" y="273.50" font-size="7.4" text-anchor="middle">(–)</text>
<text x="410.00" y="273.50" font-size="7.4" text-anchor="middle">(–)</text>
<text x="423.00" y="273.50" font-size="7.4" text-anchor="middle">(–)</text>
<text x="436.30" y="273.50" font-size="7.4" text-anchor="middle">(–)</text>
<text x="449.60" y="273.50" font-size="7.4" text-anchor="middle">(–)</text>
<text x="462.90" y="273.50" font-size="7.4" text-anchor="middle">(–)</text>
<text x="476.10" y="273.50" font-size="7.4" text-anchor="middle">(+)</text>
<text x="489.50" y="273.50" font-size="7.4" text-anchor="middle">(+)</text>
<text x="502.80" y="273.50" font-size="7.4" text-anchor="middle">(–)</text>
<text x="388.70" y="283.70" font-size="7.6" text-anchor="end" textLength="37.20" lengthAdjust="spacingAndGlyphs">Neutrophil</text>
<text x="396.80" y="283.70" font-size="7.4" text-anchor="middle">(–)</text>
<text x="410.00" y="283.70" font-size="7.4" text-anchor="middle">(–)</text>
<text x="423.00" y="283.70" font-size="7.4" text-anchor="middle">(–)</text>
<text x="436.30" y="283.70" font-size="7.4" text-anchor="middle">(–)</text>
<text x="449.60" y="283.70" font-size="7.4" text-anchor="middle">(–)</text>
<text x="462.90" y="283.70" font-size="7.4" text-anchor="middle">(–)</text>
<text x="476.10" y="283.70" font-size="7.4" text-anchor="middle">(–)</text>
<text x="489.50" y="283.70" font-size="7.4" text-anchor="middle">(–)</text>
<text x="502.80" y="283.70" font-size="7.4" text-anchor="middle">(+)</text>
<text x="7.30" y="311.50" font-size="10.0" font-weight="bold" textLength="6.20" lengthAdjust="spacingAndGlyphs">F</text>
<text x="42.50" y="329.50" font-size="8.2" text-anchor="middle" textLength="23.50" lengthAdjust="spacingAndGlyphs">Day -2</text>
<text x="42.50" y="338.80" font-size="8.2" text-anchor="middle" textLength="37.50" lengthAdjust="spacingAndGlyphs">Neutrophil</text>
<text x="42.50" y="348.00" font-size="8.2" text-anchor="middle" textLength="34.10" lengthAdjust="spacingAndGlyphs">depletion</text>
<text x="42.50" y="357.60" font-size="8.2" text-anchor="middle" textLength="36.20" lengthAdjust="spacingAndGlyphs">(anti-Ly6G</text>
<text x="42.50" y="366.90" font-size="8.2" text-anchor="middle" textLength="33.40" lengthAdjust="spacingAndGlyphs">antibody)</text>
<text x="12.00" y="378.80" font-size="7.9" textLength="25.70" lengthAdjust="spacingAndGlyphs">BALB/c</text>
<path d="M30.80,382.70 L30.80,397.40 L53.70,397.40 Z" stroke="#231f20" stroke-width="1.2" fill="none" stroke-linejoin="miter"/>
<path d="M20.00,390.50 C20.80,395.20 22.20,395.70 23.40,392.70 C24.80,387.70 26.20,384.20 28.00,384.70 C29.60,385.20 30.30,386.70 30.80,387.20" stroke="#231f20" stroke-width="1.3" fill="none"/>
<circle cx="46.30" cy="389.20" r="2.7" fill="#fff" stroke="#231f20" stroke-width="1"/>
<line x1="30.80" y1="382.70" x2="53.70" y2="397.40" stroke="#231f20" stroke-width="1.2"/>
<circle cx="42.50" cy="394.10" r="1.0" fill="#231f20"/>
<path d="M43.40,379.50 L52.00,379.50 L59.80,372.20 M52.00,379.50 L52.00,387.80" stroke="#2e2e2e" stroke-width="2.7" fill="none" stroke-linejoin="miter" stroke-linecap="butt"/>
<path d="M44.15,379.50 L52.00,379.50 L59.25,372.71 M52.00,379.50 L52.00,387.05" stroke="#fff" stroke-width="1.05" fill="none" stroke-linejoin="miter" stroke-linecap="butt"/>
<text x="43.00" y="406.80" font-size="8.2" text-anchor="middle" textLength="15.00" lengthAdjust="spacingAndGlyphs">Post</text>
<text x="43.00" y="416.50" font-size="8.2" text-anchor="middle" textLength="52.90" lengthAdjust="spacingAndGlyphs">transplantation</text>
<text x="43.00" y="425.80" font-size="8.2" text-anchor="middle" textLength="10.70" lengthAdjust="spacingAndGlyphs">(hr)</text>
<circle cx="83.40" cy="354.90" r="1.8" fill="url(#gb)"/>
<circle cx="87.10" cy="354.90" r="1.8" fill="url(#gb)"/>
<circle cx="90.60" cy="354.90" r="1.8" fill="url(#gb)"/>
<circle cx="81.50" cy="357.80" r="1.8" fill="url(#gb)"/>
<circle cx="85.20" cy="357.80" r="1.8" fill="url(#gb)"/>
<circle cx="88.40" cy="357.80" r="1.8" fill="url(#gb)"/>
<circle cx="92.30" cy="357.80" r="1.8" fill="url(#gb)"/>
<circle cx="83.40" cy="360.80" r="1.8" fill="url(#gb)"/>
<circle cx="86.70" cy="360.80" r="1.8" fill="url(#gb)"/>
<circle cx="90.40" cy="360.80" r="1.8" fill="url(#gb)"/>
<circle cx="85.20" cy="363.90" r="1.8" fill="url(#gb)"/>
<circle cx="88.80" cy="363.90" r="1.8" fill="url(#gb)"/>
<text x="98.90" y="373.60" font-size="7.8" text-anchor="end" textLength="32.00" lengthAdjust="spacingAndGlyphs">S. aureus</text>
<text x="98.20" y="382.80" font-size="7.8" text-anchor="end" textLength="10.40" lengthAdjust="spacingAndGlyphs">i.p.</text>
<g transform="translate(120.80,357.70)"><circle r="6.0" fill="#a9a7ae"/><path d="M-3.8,-3.6 C-2,-4.2 0,-4 2.2,-3.4 M-4.4,-2.0 C-3,-2.6 -1,-2.5 0.8,-2.1 M1.6,-2.6 L3.6,-1.0" stroke="#4a4a4a" stroke-width="0.75" fill="none"/><path d="M-5.8,0.0 A5.8,5.8 0 0 0 5.8,0.0 C4.5,-1.2 3.2,-1.0 2.2,0.2 C1.2,-0.6 -0.4,-1.6 -1.6,-0.6 C-3,-0.8 -4.4,-0.8 -5.8,0.0 Z" fill="#4b2486"/><ellipse cx="-3.2" cy="2.0" rx="1.2" ry="1.8" fill="#8a6fb6" opacity="0.8"/><ellipse cx="3.4" cy="1.6" rx="0.9" ry="1.4" fill="#7a5eaa" opacity="0.7"/><path d="M-1.0,-0.6 L0.3,-0.8 L0.6,1.0 L1.9,3.4 L-1.0,3.4 Z" fill="#fff"/><circle r="5.55" fill="none" stroke="#2b2b2b" stroke-width="1"/></g>
<text x="104.80" y="373.60" font-size="7.8" textLength="34.80" lengthAdjust="spacingAndGlyphs">NeuCs-XL</text>
<text x="104.80" y="382.80" font-size="7.8" textLength="10.30" lengthAdjust="spacingAndGlyphs">i.p.</text>
<path d="M122.50,349.70 L131.10,349.70 L138.90,342.40 M131.10,349.70 L131.10,358.00" stroke="#2e2e2e" stroke-width="2.7" fill="none" stroke-linejoin="miter" stroke-linecap="butt"/>
<path d="M123.25,349.70 L131.10,349.70 L138.35,342.91 M131.10,349.70 L131.10,357.25" stroke="#fff" stroke-width="1.05" fill="none" stroke-linejoin="miter" stroke-linecap="butt"/>
<text x="158.10" y="338.40" font-size="7.8" text-anchor="middle" textLength="49.20" lengthAdjust="spacingAndGlyphs">TLR2 blocking</text>
<text x="158.20" y="347.70" font-size="7.8" text-anchor="middle" textLength="30.80" lengthAdjust="spacingAndGlyphs">antibody</text>
<line x1="75.40" y1="390.70" x2="112.20" y2="390.70" stroke="#231f20" stroke-width="1.2"/>
<line x1="92.30" y1="388.00" x2="92.30" y2="393.50" stroke="#231f20" stroke-width="1"/>
<line x1="109.30" y1="388.00" x2="109.30" y2="393.50" stroke="#231f20" stroke-width="1"/>
<line x1="114.80" y1="390.70" x2="128.40" y2="390.70" stroke="#231f20" stroke-width="1.2" stroke-dasharray="2.7,2.5"/>
<path d="M129.5,388.8 L136.8,390.7 L129.5,392.8 L130.2,390.7 Z" stroke="#231f20" stroke-width="0.3" fill="#231f20"/>
<text x="92.30" y="402.30" font-size="7.8" text-anchor="middle">–0.2</text>
<text x="109.20" y="402.30" font-size="7.8" text-anchor="middle">0</text>
<text x="137.40" y="403.00" font-size="7.8" text-anchor="middle">6</text>
<text x="142.80" y="389.40" font-size="7.8" textLength="41.60" lengthAdjust="spacingAndGlyphs">Collect PEC</text>
<text x="142.80" y="398.60" font-size="7.8" textLength="38.10" lengthAdjust="spacingAndGlyphs">(peritoneal</text>
<text x="142.80" y="408.10" font-size="7.8" textLength="48.00" lengthAdjust="spacingAndGlyphs">exudate cells)</text>
<text x="142.80" y="417.40" font-size="7.8" textLength="48.50" lengthAdjust="spacingAndGlyphs">FACS analysis</text>
<text x="197.80" y="311.60" font-size="10.0" font-weight="bold" textLength="8.60" lengthAdjust="spacingAndGlyphs">G</text>
<line x1="249.60" y1="323.90" x2="249.60" y2="401.90" stroke="#231f20" stroke-width="1.1"/>
<line x1="247.10" y1="401.40" x2="300.50" y2="401.40" stroke="#231f20" stroke-width="1.1"/>
<line x1="246.60" y1="324.30" x2="249.60" y2="324.30" stroke="#231f20" stroke-width="1"/>
<line x1="246.60" y1="339.70" x2="249.60" y2="339.70" stroke="#231f20" stroke-width="1"/>
<line x1="246.60" y1="355.30" x2="249.60" y2="355.30" stroke="#231f20" stroke-width="1"/>
<line x1="246.60" y1="370.60" x2="249.60" y2="370.60" stroke="#231f20" stroke-width="1"/>
<line x1="246.60" y1="385.60" x2="249.60" y2="385.60" stroke="#231f20" stroke-width="1"/>
<line x1="264.00" y1="401.40" x2="264.00" y2="403.90" stroke="#231f20" stroke-width="1"/>
<line x1="285.60" y1="401.40" x2="285.60" y2="403.90" stroke="#231f20" stroke-width="1"/>
<text x="240.60" y="326.90" font-size="7.4" text-anchor="end" textLength="17.30" lengthAdjust="spacingAndGlyphs">2×10</text>
<text x="241.00" y="323.70" font-size="5.4">6</text>
<text x="240.60" y="357.90" font-size="7.4" text-anchor="end" textLength="17.30" lengthAdjust="spacingAndGlyphs">1×10</text>
<text x="241.00" y="354.70" font-size="5.4">6</text>
<text x="243.60" y="388.20" font-size="7.4" text-anchor="end">0</text>
<text x="274.60" y="311.60" font-size="8.1" text-anchor="middle">Human</text>
<text x="274.60" y="321.70" font-size="8.1" text-anchor="middle" textLength="40.20" lengthAdjust="spacingAndGlyphs">CD45+ cell</text>
<text x="215.00" y="363.90" font-size="8.8" text-anchor="middle" textLength="40.20" lengthAdjust="spacingAndGlyphs" transform="rotate(-90 215.00 363.90)" dominant-baseline="middle">Cell number</text>
<line x1="249.80" y1="386.00" x2="300.50" y2="386.00" stroke="#3a3a3a" stroke-width="1.1" stroke-dasharray="2.6,2.6"/>
<circle cx="264.00" cy="359.00" r="1.65" fill="#231f20"/>
<circle cx="258.20" cy="376.20" r="1.65" fill="#231f20"/>
<circle cx="264.00" cy="374.90" r="1.65" fill="#231f20"/>
<circle cx="258.20" cy="381.30" r="1.65" fill="#231f20"/>
<circle cx="264.00" cy="379.60" r="1.65" fill="#231f20"/>
<circle cx="269.60" cy="378.20" r="1.65" fill="#231f20"/>
<circle cx="269.60" cy="382.30" r="1.65" fill="#231f20"/>
<circle cx="261.30" cy="385.95" r="1.65" fill="#231f20"/>
<circle cx="266.70" cy="385.95" r="1.65" fill="#231f20"/>
<circle cx="285.60" cy="340.10" r="1.65" fill="#231f20"/>
<circle cx="285.60" cy="362.50" r="1.65" fill="#231f20"/>
<circle cx="282.00" cy="379.60" r="1.65" fill="#231f20"/>
<circle cx="285.60" cy="379.60" r="1.65" fill="#231f20"/>
<circle cx="289.20" cy="379.60" r="1.65" fill="#231f20"/>
<circle cx="280.20" cy="385.95" r="1.65" fill="#231f20"/>
<circle cx="283.10" cy="385.95" r="1.65" fill="#231f20"/>
<circle cx="287.80" cy="385.95" r="1.65" fill="#231f20"/>
<circle cx="291.20" cy="385.95" r="1.65" fill="#231f20"/>
<line x1="260.00" y1="377.80" x2="268.00" y2="377.80" stroke="#231f20" stroke-width="1.2"/>
<line x1="279.10" y1="375.90" x2="292.60" y2="375.90" stroke="#231f20" stroke-width="1.2"/>
<line x1="264.00" y1="370.10" x2="264.00" y2="385.95" stroke="#231f20" stroke-width="1.1"/>
<line x1="260.80" y1="370.10" x2="267.20" y2="370.10" stroke="#231f20" stroke-width="1.1"/>
<line x1="260.80" y1="385.95" x2="267.20" y2="385.95" stroke="#231f20" stroke-width="1.1"/>
<line x1="285.60" y1="360.70" x2="285.60" y2="391.00" stroke="#231f20" stroke-width="1.1"/>
<line x1="282.40" y1="360.70" x2="288.80" y2="360.70" stroke="#231f20" stroke-width="1.1"/>
<line x1="282.40" y1="391.00" x2="288.80" y2="391.00" stroke="#231f20" stroke-width="1.1"/>
<line x1="268.40" y1="333.30" x2="281.40" y2="333.30" stroke="#3b3b3b" stroke-width="1.1"/>
<text x="274.90" y="331.40" font-size="6.0" text-anchor="middle" textLength="9.30" lengthAdjust="spacingAndGlyphs" fill="#3b3b3b">n.s.</text>
<text x="264.00" y="413.00" font-size="7.6" text-anchor="middle">TLR2</text>
<text x="264.00" y="421.80" font-size="7.6" text-anchor="middle">block</text>
<text x="264.00" y="431.00" font-size="7.4" text-anchor="middle">(–)</text>
<text x="285.60" y="413.00" font-size="7.6" text-anchor="middle">TLR2</text>
<text x="285.60" y="421.80" font-size="7.6" text-anchor="middle">block</text>
<text x="285.60" y="431.00" font-size="7.4" text-anchor="middle">(+)</text>
<line x1="355.00" y1="321.70" x2="355.00" y2="401.90" stroke="#231f20" stroke-width="1.1"/>
<line x1="352.50" y1="401.40" x2="405.80" y2="401.40" stroke="#231f20" stroke-width="1.1"/>
<line x1="352.00" y1="322.20" x2="355.00" y2="322.20" stroke="#231f20" stroke-width="1"/>
<line x1="352.00" y1="342.00" x2="355.00" y2="342.00" stroke="#231f20" stroke-width="1"/>
<line x1="352.00" y1="361.60" x2="355.00" y2="361.60" stroke="#231f20" stroke-width="1"/>
<line x1="352.00" y1="381.50" x2="355.00" y2="381.50" stroke="#231f20" stroke-width="1"/>
<line x1="369.60" y1="401.40" x2="369.60" y2="403.90" stroke="#231f20" stroke-width="1"/>
<line x1="391.30" y1="401.40" x2="391.30" y2="403.90" stroke="#231f20" stroke-width="1"/>
<text x="346.00" y="324.80" font-size="7.4" text-anchor="end" textLength="17.30" lengthAdjust="spacingAndGlyphs">2×10</text>
<text x="346.40" y="321.60" font-size="5.4">5</text>
<text x="346.00" y="364.20" font-size="7.4" text-anchor="end" textLength="17.30" lengthAdjust="spacingAndGlyphs">1×10</text>
<text x="346.40" y="361.00" font-size="5.4">5</text>
<text x="349.00" y="404.00" font-size="7.4" text-anchor="end">0</text>
<text x="356.70" y="311.60" font-size="8.1" textLength="46.90" lengthAdjust="spacingAndGlyphs">Dendritic cell</text>
<text x="320.10" y="361.60" font-size="8.8" text-anchor="middle" textLength="40.20" lengthAdjust="spacingAndGlyphs" transform="rotate(-90 320.10 361.60)" dominant-baseline="middle">Cell number</text>
<circle cx="369.40" cy="356.40" r="1.65" fill="#231f20"/>
<circle cx="369.40" cy="371.60" r="1.65" fill="#231f20"/>
<circle cx="369.40" cy="375.80" r="1.65" fill="#231f20"/>
<circle cx="364.00" cy="381.90" r="1.65" fill="#231f20"/>
<circle cx="369.40" cy="381.90" r="1.65" fill="#231f20"/>
<circle cx="375.50" cy="384.50" r="1.65" fill="#231f20"/>
<circle cx="369.40" cy="385.30" r="1.65" fill="#231f20"/>
<circle cx="364.00" cy="389.80" r="1.65" fill="#231f20"/>
<circle cx="375.50" cy="388.00" r="1.65" fill="#231f20"/>
<circle cx="386.10" cy="384.20" r="1.65" fill="#231f20"/>
<circle cx="391.30" cy="384.20" r="1.65" fill="#231f20"/>
<circle cx="394.80" cy="382.20" r="1.65" fill="#231f20"/>
<circle cx="397.80" cy="385.30" r="1.65" fill="#231f20"/>
<circle cx="388.00" cy="386.80" r="1.65" fill="#231f20"/>
<circle cx="392.50" cy="387.80" r="1.65" fill="#231f20"/>
<circle cx="391.30" cy="390.10" r="1.65" fill="#231f20"/>
<circle cx="393.70" cy="393.60" r="1.65" fill="#231f20"/>
<circle cx="390.20" cy="396.60" r="1.65" fill="#231f20"/>
<line x1="363.40" y1="379.20" x2="377.00" y2="379.20" stroke="#231f20" stroke-width="1.2"/>
<line x1="384.90" y1="387.20" x2="398.90" y2="387.20" stroke="#231f20" stroke-width="1.2"/>
<line x1="369.60" y1="368.60" x2="369.60" y2="389.80" stroke="#231f20" stroke-width="1.1"/>
<line x1="366.40" y1="368.60" x2="372.80" y2="368.60" stroke="#231f20" stroke-width="1.1"/>
<line x1="366.40" y1="389.80" x2="372.80" y2="389.80" stroke="#231f20" stroke-width="1.1"/>
<line x1="391.30" y1="383.00" x2="391.30" y2="392.10" stroke="#231f20" stroke-width="1.1"/>
<line x1="388.30" y1="383.00" x2="394.30" y2="383.00" stroke="#231f20" stroke-width="1.1"/>
<line x1="388.30" y1="392.10" x2="394.30" y2="392.10" stroke="#231f20" stroke-width="1.1"/>
<line x1="374.60" y1="331.00" x2="387.60" y2="331.00" stroke="#3b3b3b" stroke-width="1.1"/>
<circle cx="381.10" cy="328.80" r="0.85" fill="#333"/>
<text x="369.60" y="413.00" font-size="7.6" text-anchor="middle">TLR2</text>
<text x="369.60" y="421.80" font-size="7.6" text-anchor="middle">block</text>
<text x="369.60" y="431.00" font-size="7.4" text-anchor="middle">(–)</text>
<text x="391.30" y="413.00" font-size="7.6" text-anchor="middle">TLR2</text>
<text x="391.30" y="421.80" font-size="7.6" text-anchor="middle">block</text>
<text x="391.30" y="431.00" font-size="7.4" text-anchor="middle">(+)</text>
<line x1="461.50" y1="321.80" x2="461.50" y2="401.90" stroke="#231f20" stroke-width="1.1"/>
<line x1="459.00" y1="401.40" x2="512.00" y2="401.40" stroke="#231f20" stroke-width="1.1"/>
<line x1="458.50" y1="322.30" x2="461.50" y2="322.30" stroke="#231f20" stroke-width="1"/>
<line x1="458.50" y1="342.40" x2="461.50" y2="342.40" stroke="#231f20" stroke-width="1"/>
<line x1="458.50" y1="361.80" x2="461.50" y2="361.80" stroke="#231f20" stroke-width="1"/>
<line x1="458.50" y1="381.50" x2="461.50" y2="381.50" stroke="#231f20" stroke-width="1"/>
<line x1="475.90" y1="401.40" x2="475.90" y2="403.90" stroke="#231f20" stroke-width="1"/>
<line x1="498.20" y1="401.40" x2="498.20" y2="403.90" stroke="#231f20" stroke-width="1"/>
<text x="452.50" y="324.90" font-size="7.4" text-anchor="end" textLength="17.30" lengthAdjust="spacingAndGlyphs">2×10</text>
<text x="452.90" y="321.70" font-size="5.4">6</text>
<text x="452.50" y="364.40" font-size="7.4" text-anchor="end" textLength="17.30" lengthAdjust="spacingAndGlyphs">1×10</text>
<text x="452.90" y="361.20" font-size="5.4">6</text>
<text x="455.50" y="404.00" font-size="7.4" text-anchor="end">0</text>
<text x="463.90" y="311.60" font-size="8.1" textLength="45.00" lengthAdjust="spacingAndGlyphs">Macrophage</text>
<text x="426.90" y="361.60" font-size="8.8" text-anchor="middle" textLength="40.20" lengthAdjust="spacingAndGlyphs" transform="rotate(-90 426.90 361.60)" dominant-baseline="middle">Cell number</text>
<circle cx="473.20" cy="360.20" r="1.65" fill="#231f20"/>
<circle cx="479.00" cy="360.20" r="1.65" fill="#231f20"/>
<circle cx="472.90" cy="371.90" r="1.65" fill="#231f20"/>
<circle cx="479.00" cy="372.40" r="1.65" fill="#231f20"/>
<circle cx="472.90" cy="377.70" r="1.65" fill="#231f20"/>
<circle cx="479.00" cy="378.00" r="1.65" fill="#231f20"/>
<circle cx="472.90" cy="383.70" r="1.65" fill="#231f20"/>
<circle cx="479.00" cy="385.60" r="1.65" fill="#231f20"/>
<circle cx="475.90" cy="389.00" r="1.65" fill="#231f20"/>
<circle cx="498.20" cy="368.90" r="1.65" fill="#231f20"/>
<circle cx="498.20" cy="381.90" r="1.65" fill="#231f20"/>
<circle cx="492.20" cy="384.50" r="1.65" fill="#231f20"/>
<circle cx="503.30" cy="384.90" r="1.65" fill="#231f20"/>
<circle cx="503.30" cy="388.00" r="1.65" fill="#231f20"/>
<circle cx="498.20" cy="389.50" r="1.65" fill="#231f20"/>
<circle cx="494.80" cy="394.40" r="1.65" fill="#231f20"/>
<circle cx="500.80" cy="394.40" r="1.65" fill="#231f20"/>
<line x1="469.40" y1="375.40" x2="483.10" y2="375.40" stroke="#231f20" stroke-width="1.2"/>
<line x1="491.10" y1="384.90" x2="505.10" y2="384.90" stroke="#231f20" stroke-width="1.2"/>
<line x1="475.90" y1="364.80" x2="475.90" y2="384.90" stroke="#231f20" stroke-width="1.1"/>
<line x1="472.90" y1="364.80" x2="478.90" y2="364.80" stroke="#231f20" stroke-width="1.1"/>
<line x1="472.90" y1="384.90" x2="478.90" y2="384.90" stroke="#231f20" stroke-width="1.1"/>
<line x1="498.20" y1="376.40" x2="498.20" y2="393.10" stroke="#231f20" stroke-width="1.1"/>
<line x1="495.20" y1="376.40" x2="501.20" y2="376.40" stroke="#231f20" stroke-width="1.1"/>
<line x1="495.20" y1="393.10" x2="501.20" y2="393.10" stroke="#231f20" stroke-width="1.1"/>
<line x1="480.40" y1="329.80" x2="493.30" y2="329.80" stroke="#3b3b3b" stroke-width="1.1"/>
<circle cx="486.85" cy="327.60" r="0.85" fill="#333"/>
<text x="475.90" y="413.00" font-size="7.6" text-anchor="middle">TLR2</text>
<text x="475.90" y="421.80" font-size="7.6" text-anchor="middle">block</text>
<text x="475.90" y="431.00" font-size="7.4" text-anchor="middle">(–)</text>
<text x="498.20" y="413.00" font-size="7.6" text-anchor="middle">TLR2</text>
<text x="498.20" y="421.80" font-size="7.6" text-anchor="middle">block</text>
<text x="498.20" y="431.00" font-size="7.4" text-anchor="middle">(+)</text>
<text x="7.00" y="453.80" font-size="10.5" font-weight="bold" textLength="7.80" lengthAdjust="spacingAndGlyphs">H</text>
<text x="49.30" y="464.50" font-size="8.0" text-anchor="middle" textLength="22.80" lengthAdjust="spacingAndGlyphs">6.5 Gy</text>
<text x="49.60" y="473.70" font-size="8.0" text-anchor="middle" textLength="35.80" lengthAdjust="spacingAndGlyphs">irradiation</text>
<text x="21.60" y="493.10" font-size="7.9" textLength="25.60" lengthAdjust="spacingAndGlyphs">BALB/c</text>
<path d="M58.3,484.3 L66.4,484.3 L54.9,498.6 Z" stroke="#231f20" stroke-width="0.9" fill="#8c8c8c" stroke-linejoin="round"/>
<path d="M46.40,498.00 L46.40,512.70 L69.30,512.70 Z" stroke="#231f20" stroke-width="1.2" fill="none" stroke-linejoin="miter"/>
<path d="M35.60,505.80 C36.40,510.50 37.80,511.00 39.00,508.00 C40.40,503.00 41.80,499.50 43.60,500.00 C45.20,500.50 45.90,502.00 46.40,502.50" stroke="#231f20" stroke-width="1.3" fill="none"/>
<circle cx="61.90" cy="504.50" r="2.7" fill="#fff" stroke="#231f20" stroke-width="1"/>
<line x1="46.40" y1="498.00" x2="69.30" y2="512.70" stroke="#231f20" stroke-width="1.2"/>
<circle cx="58.10" cy="509.40" r="1.0" fill="#231f20"/>
<text x="58.40" y="522.60" font-size="8.2" text-anchor="middle" textLength="15.00" lengthAdjust="spacingAndGlyphs">Post</text>
<text x="58.40" y="531.80" font-size="8.2" text-anchor="middle" textLength="52.60" lengthAdjust="spacingAndGlyphs">transplantation</text>
<text x="58.40" y="540.80" font-size="8.2" text-anchor="middle" textLength="10.70" lengthAdjust="spacingAndGlyphs">(hr)</text>
<circle cx="82.70" cy="468.00" r="1.8" fill="url(#gb)"/>
<circle cx="86.40" cy="468.00" r="1.8" fill="url(#gb)"/>
<circle cx="89.90" cy="468.00" r="1.8" fill="url(#gb)"/>
<circle cx="80.80" cy="470.90" r="1.8" fill="url(#gb)"/>
<circle cx="84.50" cy="470.90" r="1.8" fill="url(#gb)"/>
<circle cx="87.70" cy="470.90" r="1.8" fill="url(#gb)"/>
<circle cx="91.60" cy="470.90" r="1.8" fill="url(#gb)"/>
<circle cx="82.70" cy="473.90" r="1.8" fill="url(#gb)"/>
<circle cx="86.00" cy="473.90" r="1.8" fill="url(#gb)"/>
<circle cx="89.70" cy="473.90" r="1.8" fill="url(#gb)"/>
<circle cx="84.50" cy="477.00" r="1.8" fill="url(#gb)"/>
<circle cx="88.10" cy="477.00" r="1.8" fill="url(#gb)"/>
<text x="102.90" y="489.40" font-size="7.8" text-anchor="end" textLength="32.00" lengthAdjust="spacingAndGlyphs">S. aureus</text>
<text x="102.90" y="498.40" font-size="7.8" text-anchor="end" textLength="10.40" lengthAdjust="spacingAndGlyphs">i.p.</text>
<g transform="translate(124.60,471.60)"><circle r="6.0" fill="#a9a7ae"/><path d="M-3.8,-3.6 C-2,-4.2 0,-4 2.2,-3.4 M-4.4,-2.0 C-3,-2.6 -1,-2.5 0.8,-2.1 M1.6,-2.6 L3.6,-1.0" stroke="#4a4a4a" stroke-width="0.75" fill="none"/><path d="M-5.8,0.0 A5.8,5.8 0 0 0 5.8,0.0 C4.5,-1.2 3.2,-1.0 2.2,0.2 C1.2,-0.6 -0.4,-1.6 -1.6,-0.6 C-3,-0.8 -4.4,-0.8 -5.8,0.0 Z" fill="#4b2486"/><ellipse cx="-3.2" cy="2.0" rx="1.2" ry="1.8" fill="#8a6fb6" opacity="0.8"/><ellipse cx="3.4" cy="1.6" rx="0.9" ry="1.4" fill="#7a5eaa" opacity="0.7"/><path d="M-1.0,-0.6 L0.3,-0.8 L0.6,1.0 L1.9,3.4 L-1.0,3.4 Z" fill="#fff"/><circle r="5.55" fill="none" stroke="#2b2b2b" stroke-width="1"/></g>
<text x="107.80" y="489.40" font-size="7.8" textLength="34.80" lengthAdjust="spacingAndGlyphs">NeuCs-XL</text>
<text x="107.80" y="498.40" font-size="7.8" textLength="10.30" lengthAdjust="spacingAndGlyphs">i.p.</text>
<line x1="78.90" y1="506.40" x2="115.80" y2="506.40" stroke="#231f20" stroke-width="1.2"/>
<line x1="95.50" y1="503.60" x2="95.50" y2="509.00" stroke="#231f20" stroke-width="1"/>
<line x1="113.00" y1="503.60" x2="113.00" y2="509.00" stroke="#231f20" stroke-width="1"/>
<line x1="118.10" y1="506.40" x2="137.60" y2="506.40" stroke="#231f20" stroke-width="1.2" stroke-dasharray="2.7,1.4"/>
<path d="M139.6,504.4 L147.7,506.4 L139.6,508.4 L140.3,506.4 Z" stroke="#231f20" stroke-width="0.3" fill="#231f20"/>
<text x="95.50" y="518.50" font-size="7.8" text-anchor="middle">–0.2</text>
<text x="113.10" y="518.50" font-size="7.8" text-anchor="middle">0</text>
<text x="151.00" y="504.90" font-size="7.8" textLength="26.90" lengthAdjust="spacingAndGlyphs">Survival</text>
<text x="151.00" y="514.40" font-size="7.8" textLength="26.90" lengthAdjust="spacingAndGlyphs">analysis</text>
<text x="132.70" y="526.90" font-size="7.8" text-anchor="middle" textLength="22.30" lengthAdjust="spacingAndGlyphs">Check</text>
<text x="132.70" y="536.20" font-size="7.8" text-anchor="middle" textLength="35.40" lengthAdjust="spacingAndGlyphs">every 1 hr</text>
<text x="204.60" y="453.80" font-size="10.5" font-weight="bold" textLength="2.40" lengthAdjust="spacingAndGlyphs">I</text>
<line x1="248.20" y1="454.56" x2="248.20" y2="559.20" stroke="#231f20" stroke-width="1.1"/>
<line x1="247.70" y1="558.70" x2="403.80" y2="558.70" stroke="#231f20" stroke-width="1.1"/>
<line x1="244.60" y1="558.70" x2="248.20" y2="558.70" stroke="#231f20" stroke-width="1"/>
<line x1="246.20" y1="553.98" x2="248.20" y2="553.98" stroke="#231f20" stroke-width="0.8"/>
<line x1="246.20" y1="549.26" x2="248.20" y2="549.26" stroke="#231f20" stroke-width="0.8"/>
<line x1="246.20" y1="544.54" x2="248.20" y2="544.54" stroke="#231f20" stroke-width="0.8"/>
<line x1="246.20" y1="539.82" x2="248.20" y2="539.82" stroke="#231f20" stroke-width="0.8"/>
<line x1="246.20" y1="535.10" x2="248.20" y2="535.10" stroke="#231f20" stroke-width="0.8"/>
<line x1="246.20" y1="530.38" x2="248.20" y2="530.38" stroke="#231f20" stroke-width="0.8"/>
<line x1="246.20" y1="525.66" x2="248.20" y2="525.66" stroke="#231f20" stroke-width="0.8"/>
<line x1="246.20" y1="520.94" x2="248.20" y2="520.94" stroke="#231f20" stroke-width="0.8"/>
<line x1="246.20" y1="516.22" x2="248.20" y2="516.22" stroke="#231f20" stroke-width="0.8"/>
<line x1="244.60" y1="511.50" x2="248.20" y2="511.50" stroke="#231f20" stroke-width="1"/>
<line x1="246.20" y1="506.78" x2="248.20" y2="506.78" stroke="#231f20" stroke-width="0.8"/>
<line x1="246.20" y1="502.06" x2="248.20" y2="502.06" stroke="#231f20" stroke-width="0.8"/>
<line x1="246.20" y1="497.34" x2="248.20" y2="497.34" stroke="#231f20" stroke-width="0.8"/>
<line x1="246.20" y1="492.62" x2="248.20" y2="492.62" stroke="#231f20" stroke-width="0.8"/>
<line x1="246.20" y1="487.90" x2="248.20" y2="487.90" stroke="#231f20" stroke-width="0.8"/>
<line x1="246.20" y1="483.18" x2="248.20" y2="483.18" stroke="#231f20" stroke-width="0.8"/>
<line x1="246.20" y1="478.46" x2="248.20" y2="478.46" stroke="#231f20" stroke-width="0.8"/>
<line x1="246.20" y1="473.74" x2="248.20" y2="473.74" stroke="#231f20" stroke-width="0.8"/>
<line x1="246.20" y1="469.02" x2="248.20" y2="469.02" stroke="#231f20" stroke-width="0.8"/>
<line x1="244.60" y1="464.30" x2="248.20" y2="464.30" stroke="#231f20" stroke-width="1"/>
<line x1="246.20" y1="459.58" x2="248.20" y2="459.58" stroke="#231f20" stroke-width="0.8"/>
<line x1="246.20" y1="454.86" x2="248.20" y2="454.86" stroke="#231f20" stroke-width="0.8"/>
<line x1="248.20" y1="558.70" x2="248.20" y2="561.10" stroke="#231f20" stroke-width="1"/>
<text x="248.20" y="570.40" font-size="7.0" text-anchor="middle" textLength="3.70" lengthAdjust="spacingAndGlyphs">0</text>
<line x1="259.31" y1="558.70" x2="259.31" y2="561.10" stroke="#231f20" stroke-width="1"/>
<text x="259.31" y="570.40" font-size="7.0" text-anchor="middle" textLength="3.70" lengthAdjust="spacingAndGlyphs">1</text>
<line x1="270.43" y1="558.70" x2="270.43" y2="561.10" stroke="#231f20" stroke-width="1"/>
<text x="270.43" y="570.40" font-size="7.0" text-anchor="middle" textLength="3.70" lengthAdjust="spacingAndGlyphs">2</text>
<line x1="281.54" y1="558.70" x2="281.54" y2="561.10" stroke="#231f20" stroke-width="1"/>
<text x="281.54" y="570.40" font-size="7.0" text-anchor="middle" textLength="3.70" lengthAdjust="spacingAndGlyphs">3</text>
<line x1="292.66" y1="558.70" x2="292.66" y2="561.10" stroke="#231f20" stroke-width="1"/>
<text x="292.66" y="570.40" font-size="7.0" text-anchor="middle" textLength="3.70" lengthAdjust="spacingAndGlyphs">4</text>
<line x1="303.77" y1="558.70" x2="303.77" y2="561.10" stroke="#231f20" stroke-width="1"/>
<text x="303.77" y="570.40" font-size="7.0" text-anchor="middle" textLength="3.70" lengthAdjust="spacingAndGlyphs">5</text>
<line x1="314.88" y1="558.70" x2="314.88" y2="561.10" stroke="#231f20" stroke-width="1"/>
<text x="314.88" y="570.40" font-size="7.0" text-anchor="middle" textLength="3.70" lengthAdjust="spacingAndGlyphs">6</text>
<line x1="326.00" y1="558.70" x2="326.00" y2="561.10" stroke="#231f20" stroke-width="1"/>
<text x="326.00" y="570.40" font-size="7.0" text-anchor="middle" textLength="3.70" lengthAdjust="spacingAndGlyphs">7</text>
<line x1="337.11" y1="558.70" x2="337.11" y2="561.10" stroke="#231f20" stroke-width="1"/>
<text x="337.11" y="570.40" font-size="7.0" text-anchor="middle" textLength="3.70" lengthAdjust="spacingAndGlyphs">8</text>
<line x1="348.23" y1="558.70" x2="348.23" y2="561.10" stroke="#231f20" stroke-width="1"/>
<text x="348.23" y="570.40" font-size="7.0" text-anchor="middle" textLength="3.70" lengthAdjust="spacingAndGlyphs">9</text>
<line x1="359.34" y1="558.70" x2="359.34" y2="561.10" stroke="#231f20" stroke-width="1"/>
<text x="359.34" y="570.40" font-size="7.0" text-anchor="middle" textLength="7.60" lengthAdjust="spacingAndGlyphs">10</text>
<line x1="370.45" y1="558.70" x2="370.45" y2="561.10" stroke="#231f20" stroke-width="1"/>
<text x="370.45" y="570.40" font-size="7.0" text-anchor="middle" textLength="7.60" lengthAdjust="spacingAndGlyphs">11</text>
<line x1="381.57" y1="558.70" x2="381.57" y2="561.10" stroke="#231f20" stroke-width="1"/>
<text x="381.57" y="570.40" font-size="7.0" text-anchor="middle" textLength="7.60" lengthAdjust="spacingAndGlyphs">12</text>
<line x1="392.68" y1="558.70" x2="392.68" y2="561.10" stroke="#231f20" stroke-width="1"/>
<text x="392.68" y="570.40" font-size="7.0" text-anchor="middle" textLength="7.60" lengthAdjust="spacingAndGlyphs">13</text>
<line x1="403.80" y1="558.70" x2="403.80" y2="561.10" stroke="#231f20" stroke-width="1"/>
<text x="403.80" y="570.40" font-size="7.0" text-anchor="middle" textLength="7.60" lengthAdjust="spacingAndGlyphs">14</text>
<text x="242.30" y="466.70" font-size="7.4" text-anchor="end" textLength="12.30" lengthAdjust="spacingAndGlyphs">100</text>
<text x="242.30" y="513.90" font-size="7.4" text-anchor="end" textLength="8.20" lengthAdjust="spacingAndGlyphs">50</text>
<text x="242.30" y="561.10" font-size="7.4" text-anchor="end" textLength="4.10" lengthAdjust="spacingAndGlyphs">0</text>
<text x="220.80" y="506.20" font-size="8.6" text-anchor="middle" textLength="72.00" lengthAdjust="spacingAndGlyphs" transform="rotate(-90 220.80 506.20)" dominant-baseline="middle">Probability of survival</text>
<text x="287.90" y="583.90" font-size="8.8" textLength="77.20" lengthAdjust="spacingAndGlyphs">Days post NeuCs-XL i.p.</text>
<path d="M248.2,464.3 L257.6,464.3 L257.6,488 L259.5,511.2 L260.4,535.1 L261.0,558.7" stroke="#d0243a" stroke-width="1.4" fill="none" stroke-linejoin="miter"/>
<path d="M248.2,464.3 L251.5,464.3 L251.7,511.2 L252.2,535.1 L253.0,558.7" stroke="#1f5b94" stroke-width="1.4" fill="none" stroke-linejoin="miter"/>
<circle cx="251.60" cy="511.20" r="1.8" fill="#1f5b94"/>
<circle cx="252.20" cy="535.10" r="1.8" fill="#1f5b94"/>
<circle cx="253.00" cy="558.90" r="1.8" fill="#1f5b94"/>
<rect x="255.80" y="486.20" width="3.6" height="3.6" fill="#d0243a"/>
<rect x="257.70" y="509.40" width="3.6" height="3.6" fill="#d0243a"/>
<rect x="258.60" y="533.30" width="3.6" height="3.6" fill="#d0243a"/>
<rect x="259.20" y="556.70" width="3.6" height="3.6" fill="#d0243a"/>
<line x1="311.70" y1="469.50" x2="321.20" y2="469.50" stroke="#1f5b94" stroke-width="1.5"/>
<circle cx="316.50" cy="469.50" r="1.9" fill="#1f5b94"/>
<line x1="311.70" y1="479.90" x2="321.20" y2="479.90" stroke="#d0243a" stroke-width="1.5"/>
<rect x="314.70" y="478.10" width="3.6" height="3.6" fill="#d0243a"/>
<text x="324.20" y="471.90" font-size="7.0" textLength="36.30" lengthAdjust="spacingAndGlyphs">PBS (n = 4)</text>
<text x="324.20" y="482.20" font-size="7.0" textLength="56.70" lengthAdjust="spacingAndGlyphs">NeuCs-XL (n = 4)</text>
<text x="283.80" y="517.70" font-size="7.9" textLength="94.60" lengthAdjust="spacingAndGlyphs">** P=0.0062 by log-rank test</text>
<rect x="0.6" y="0.6" width="518.8" height="591.8" fill="none" stroke="#1a1a1a" stroke-width="1.3"/>
</svg>
</body></html>
